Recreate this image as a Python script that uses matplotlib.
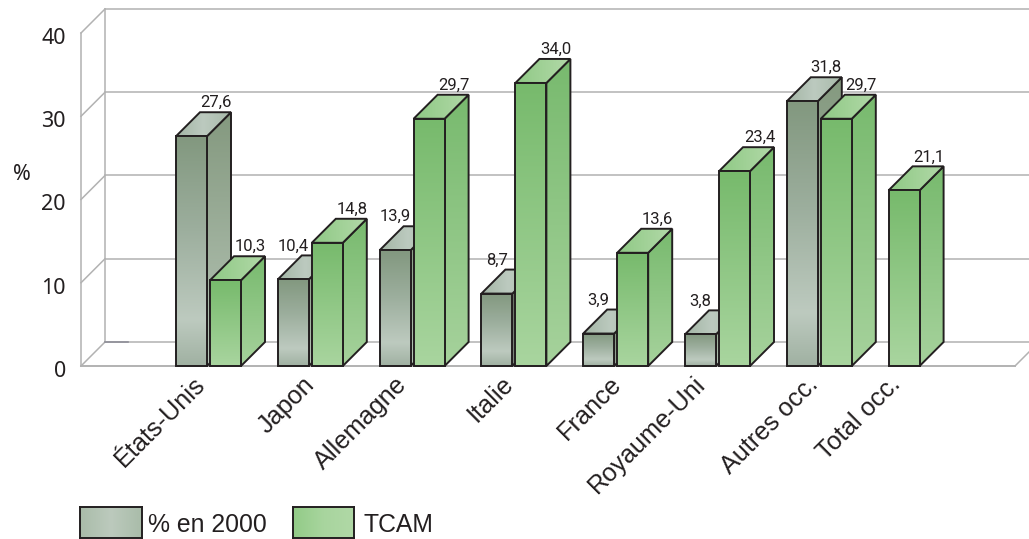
import matplotlib
matplotlib.use("Agg")
import matplotlib.pyplot as plt
import numpy as np
from matplotlib.colors import LinearSegmentedColormap
from matplotlib.patches import Polygon
from matplotlib.transforms import ScaledTranslation

# -------------------------------
# Data
# -------------------------------

categories = ['États-Unis', 'Japon', 'Allemagne', 'Italie', 'France',
              'Royaume-Uni', 'Autres occ.', 'Total occ.']
share_2000 = [27.6, 10.4, 13.9, 8.7, 3.9, 3.8, 31.8, np.nan]
tcam = [10.3, 14.8, 29.7, 34.0, 13.6, 23.4, 29.7, 21.1]
y_ticks = [0, 10, 20, 30, 40]

# -------------------------------
# Style
# -------------------------------

W, H = 1029, 539
PX = 0.72  # one pixel in points at dpi 100

left_px, right_px, floor_px, top_px = 81, 1015, 366, 33
group_px = 101.8
first_group_px = 208.5
y_max = 40

x_unit = 1 / group_px
y_unit = y_max / (floor_px - top_px)
bar_w = 31 * x_unit
bar_gap = 3 * x_unit
depth_x = 24 * x_unit
depth_y = 24 * y_unit

grid_color = '#b2b2b2'
edge_color = '#231f20'
text_color = '#231f20'

# horizontal nudge of each rotated category label, in pixels
label_nudge = [-16, -8, -17, -13, -6, -24, -13, -33]

grey_front = LinearSegmentedColormap.from_list(
    'grey_front', [(0, '#82987f'), (0.4, '#9cae9d'), (0.8, '#bdcabf'), (1, '#a0b1a2')])
grey_side = LinearSegmentedColormap.from_list('grey_side', ['#84997f', '#b7c6b8'])
grey_top = LinearSegmentedColormap.from_list('grey_top', ['#a3b5a5', '#bccabf', '#a8baaa'])
green_front = LinearSegmentedColormap.from_list('green_front', ['#77ba6c', '#a9d59f'])
green_side = LinearSegmentedColormap.from_list('green_side', ['#78ba6e', '#a6d29c'])
green_top = LinearSegmentedColormap.from_list('green_top', ['#8fc985', '#b2d9a8'])

fig = plt.figure(figsize=(W / 100, H / 100), dpi=100)
ax = fig.add_axes([left_px / W, 1 - floor_px / H,
                   (right_px - left_px) / W, (floor_px - top_px) / H])
x_min = (left_px - first_group_px) * x_unit
x_max = (right_px - first_group_px) * x_unit
for side in ax.spines.values():
    side.set_visible(False)


def shaded_face(points, cmap, z, horizontal=False):
    # gradient image clipped to the face, then the outline on top
    xs, ys = zip(*points)
    ramp = np.linspace(0, 1, 256)
    ramp = ramp[None, :] if horizontal else ramp[:, None]
    im = ax.imshow(ramp, cmap=cmap, vmin=0, vmax=1, aspect='auto', zorder=z,
                   extent=(min(xs), max(xs), min(ys), max(ys)), origin='upper')
    outline = Polygon(points, closed=True, fill=False, edgecolor=edge_color,
                      linewidth=1.4, joinstyle='miter', zorder=z + 0.1, clip_on=False)
    ax.add_patch(outline)
    im.set_clip_path(outline)


def draw_bar(x0, value, cmaps, z):
    front, side, top = cmaps
    x1 = x0 + bar_w
    shaded_face([(x1, 0), (x1 + depth_x, depth_y), (x1 + depth_x, value + depth_y), (x1, value)],
                side, z)
    shaded_face([(x0, value), (x1, value), (x1 + depth_x, value + depth_y), (x0 + depth_x, value + depth_y)],
                top, z + 0.2, horizontal=True)
    shaded_face([(x0, 0), (x1, 0), (x1, value), (x0, value)], front, z + 0.4)


def value_label(x, value):
    ax.annotate(f'{value:.1f}'.replace('.', ','), (x, value + depth_y),
                xytext=(0, 5 * PX), textcoords='offset points', ha='center', va='baseline',
                fontsize=12, family='Roboto', color=text_color, zorder=200)


# -------------------------------
# Walls and grid
# -------------------------------

back_end = x_max + 14 * x_unit
for tick in y_ticks:
    ax.plot([x_min, x_min + depth_x], [tick, tick + depth_y], color=grid_color, lw=1.1, clip_on=False, zorder=1)
    ax.plot([x_min + depth_x, back_end], [tick + depth_y] * 2, color=grid_color, lw=1.1, clip_on=False, zorder=1)
ax.plot([x_min, x_min], [0, y_max], color=grid_color, lw=1.1, clip_on=False, zorder=1)
ax.plot([x_min + depth_x] * 2, [depth_y, y_max + depth_y], color=grid_color, lw=1.1, clip_on=False, zorder=1)
ax.plot([x_min, x_max], [0, 0], color=grid_color, lw=1.4, clip_on=False, zorder=1)
ax.plot([x_max, back_end], [0, 14 * y_unit], color=grid_color, lw=1.1, clip_on=False, zorder=1)
ax.plot([x_min + depth_x, x_min + depth_x + 23 * x_unit], [depth_y, depth_y],
        color='#8f8f98', lw=1.2, clip_on=False, zorder=1.5)

# -------------------------------
# Bars
# -------------------------------

slot_start = np.arange(len(categories)) - bar_w - bar_gap / 2
z = 10
for i, (grey, green) in enumerate(zip(share_2000, tcam)):
    x_grey = slot_start[i]
    x_green = x_grey + bar_w + bar_gap
    if np.isnan(grey):
        x_green = x_grey  # the total has one bar only, in the first slot
    else:
        draw_bar(x_grey, grey, (grey_front, grey_side, grey_top), z)
        z += 1
        # taller green neighbour hides the back of the bar, so its label moves left
        shift = depth_x if grey > green else 0
        value_label(x_grey + bar_w / 2 + shift, grey)
    draw_bar(x_green, green, (green_front, green_side, green_top), z)
    z += 1
    value_label(x_green + bar_w / 2 + depth_x + x_unit, green)

# -------------------------------
# Axes text
# -------------------------------

ax.set_xlim(x_min, x_max)
ax.set_ylim(0, y_max)

ax.set_yticks(y_ticks)
ax.set_yticklabels([str(t) for t in y_ticks], fontsize=15.5, family='Noto Sans', color=text_color)
ax.tick_params(axis='y', length=0, pad=15 * PX)
for lab in ax.get_yticklabels():
    lab.set_transform(lab.get_transform() + ScaledTranslation(0, -3 * PX / 72, fig.dpi_scale_trans))

ax.set_xticks(np.arange(len(categories)))
ax.set_xticklabels(categories, rotation=45, ha='right', rotation_mode='anchor',
                   fontsize=18.2, family='Liberation Sans', color=text_color)
ax.tick_params(axis='x', length=0, pad=6 * PX)
for lab, nudge in zip(ax.get_xticklabels(), label_nudge):
    lab.set_transform(lab.get_transform() + ScaledTranslation(nudge * PX / 72, 0, fig.dpi_scale_trans))

fig.text(22 / W, 1 - 174 / H, '%', ha='center', va='center', fontsize=15.5,
         family='Noto Sans', color=text_color)

# -------------------------------
# Legend
# -------------------------------


def legend_swatch(x0, x1, cmap, label, label_x):
    sw = fig.add_axes([x0 / W, 1 - 538 / H, (x1 - x0) / W, 31 / H])
    sw.imshow(np.linspace(0, 1, 256)[None, :], cmap=cmap, aspect='auto', vmin=0, vmax=1)
    sw.set_xticks([])
    sw.set_yticks([])
    for side in sw.spines.values():
        side.set_color(edge_color)
        side.set_linewidth(1.4)
    fig.text(label_x / W, 1 - 525 / H, label, ha='left', va='center', fontsize=17.8,
             family='Liberation Sans', color=text_color)


legend_grey = LinearSegmentedColormap.from_list('legend_grey', ['#a9bca9', '#bccabd', '#a9bca9'])
legend_green = LinearSegmentedColormap.from_list('legend_green', ['#92cb87', '#a8d59e', '#b0d8a6'])
legend_swatch(80, 142, legend_grey, '% en 2000', 148)
legend_swatch(293, 354, legend_green, 'TCAM', 363)

fig.savefig('out.png', dpi=100)
